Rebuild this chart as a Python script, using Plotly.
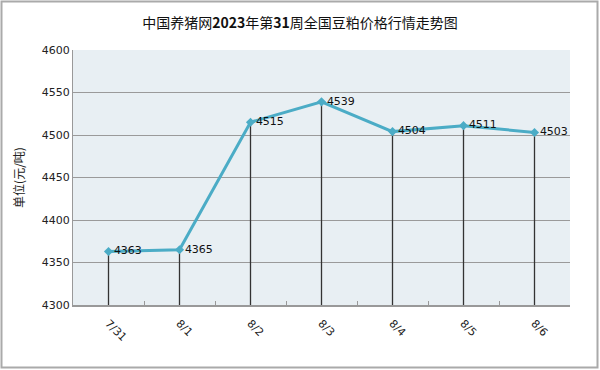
import plotly.graph_objects as go

dates = ["7/31", "8/1", "8/2", "8/3", "8/4", "8/5", "8/6"]
prices = [4363, 4365, 4515, 4539, 4504, 4511, 4503]
y_min, y_max = 4300, 4600
y_ticks = [4300, 4350, 4400, 4450, 4500, 4550, 4600]
title_text = "中国养猪网<b>2023</b>年第<b>31</b>周全国豆粕价格行情走势图"
y_title = "单位(元/吨)"

W, H = 600, 370
ml, mr, mt, mb = 73, 30, 50, 65
pw, ph = W - ml - mr, H - mt - mb

fig = go.Figure()
fig.add_trace(go.Scatter(
    x=dates, y=prices,
    mode="lines+markers+text",
    text=[str(v) for v in prices],
    textposition="middle right",
    textfont=dict(family="DejaVu Sans", size=11, color="#111"),
    line=dict(color="#4BACC6", width=3),
    marker=dict(symbol="diamond", size=7, color="#4BACC6"),
    error_y=dict(type="data", symmetric=False,
                 array=[0] * len(prices),
                 arrayminus=[v - y_min for v in prices],
                 width=0, thickness=1.3, color="#333"),
    cliponaxis=False,
    showlegend=False,
))

# outer border of the picture
fig.add_shape(type="rect", xref="paper", yref="paper",
              x0=(1.5 - ml) / pw, x1=(W - 2.5 - ml) / pw,
              y0=(H - mb - (H - 2.5)) / ph, y1=(H - mb - 1.5) / ph,
              line=dict(color="#AAAAAA", width=2), layer="below")

fig.update_layout(
    width=W, height=H,
    margin=dict(l=ml, r=mr, t=mt, b=mb),
    paper_bgcolor="white",
    plot_bgcolor="#E8EFF3",
    title=dict(text=title_text, x=0.5, xanchor="center", y=1 - 23 / H, yanchor="middle",
               font=dict(family="Noto Sans CJK SC", size=14, color="#111")),
    xaxis=dict(
        type="category", tickangle=45, tickson="boundaries",
        ticks="inside", ticklen=4, tickcolor="#999",
        showgrid=False, showline=True, linecolor="#999", linewidth=1.5,
        tickfont=dict(family="DejaVu Sans", size=11, color="#222"),
        ticklabelstandoff=6,
        range=[-0.5, len(dates) - 0.5],
    ),
    yaxis=dict(
        range=[y_min, y_max], tickvals=y_ticks,
        showgrid=True, gridcolor="#9A9A9A", gridwidth=1,
        showline=True, linecolor="#999", linewidth=1,
        zeroline=False, ticks="",
        tickfont=dict(family="DejaVu Sans", size=11, color="#222"),
        title=dict(text=y_title, standoff=14,
                   font=dict(family="Noto Sans CJK SC", size=12, color="#222")),
    ),
)

fig.write_html("out.html", config={"displayModeBar": False})

# remove the default page margin so the figure sits at the window's origin
with open("out.html", "r", encoding="utf-8") as f:
    html = f.read()
html = html.replace("<head>", "<head><style>html,body{margin:0;padding:0;overflow:hidden;}</style>", 1)
with open("out.html", "w", encoding="utf-8") as f:
    f.write(html)
